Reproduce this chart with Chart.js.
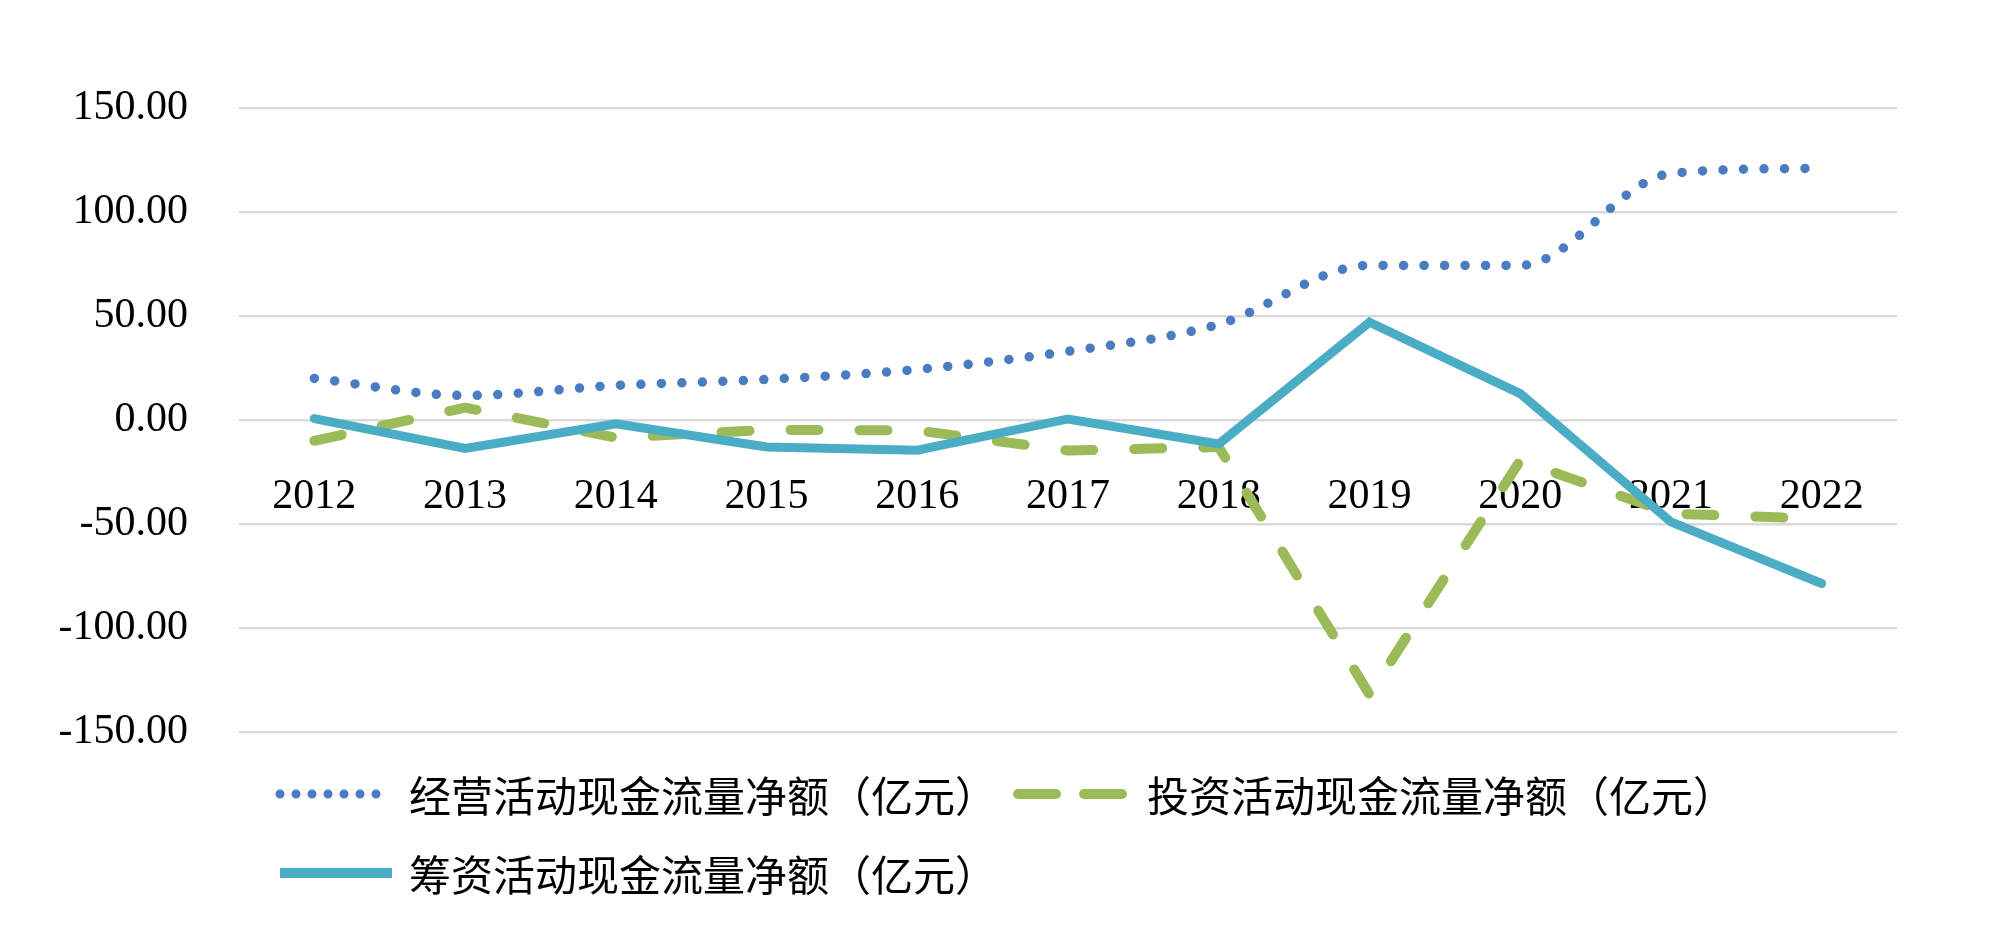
<!DOCTYPE html>
<html>
<head>
<meta charset="utf-8">
<script src="https://cdn.jsdelivr.net/npm/chart.js@4.4.0/dist/chart.umd.min.js"></script>
<style>
  html, body { margin: 0; padding: 0; background: #fff; }
  #wrap { position: relative; width: 1999px; height: 937px; }
  #legend { position: absolute; left: 275px; top: 763px; font-family: "Noto Sans CJK SC", sans-serif; font-size: 42px; color: #000; }
  .item { position: absolute; white-space: nowrap; display: flex; align-items: center; }
  .item svg { margin-right: 12px; }
</style>
</head>
<body>
<div id="wrap">
  <canvas id="chart" width="1999" height="937"></canvas>
  <div id="legend"></div>
</div>
<script>
// years on the x axis
const years = ["2012", "2013", "2014", "2015", "2016", "2017", "2018", "2019", "2020", "2021", "2022"];

// net cash flow, 亿元
const operating = [20, 11.8, 16.6, 19.5, 24.3, 33, 46, 74.3, 74.3, 118.5, 121];
const investing = [-10, 6, -8.5, -4.7, -5, -14.7, -13, -132, -19.5, -45, -47.5];
const financing = [0.7, -13.7, -1.8, -13, -14.5, 0.5, -11.5, 47, 12.7, -49, -78.6];

const seriesNames = [
  "经营活动现金流量净额（亿元）",
  "投资活动现金流量净额（亿元）",
  "筹资活动现金流量净额（亿元）"
];

const yTicks = [-150, -100, -50, 0, 50, 100, 150];

const blue = "#4a7cc1";
const green = "#9bbb59";
const teal = "#4bacc6";

const ctx = document.getElementById("chart").getContext("2d");

new Chart(ctx, {
  type: "line",
  data: {
    labels: years,
    datasets: [
      {
        label: seriesNames[0],
        data: operating,
        borderColor: blue,
        borderWidth: 9.5,
        borderDash: [0, 20.5],
        borderCapStyle: "round",
        cubicInterpolationMode: "monotone",
        pointRadius: 0,
        order: 2
      },
      {
        label: seriesNames[1],
        data: investing,
        borderColor: green,
        borderWidth: 10,
        borderDash: [28, 41],
        borderCapStyle: "round",
        tension: 0,
        pointRadius: 0,
        order: 1
      },
      {
        label: seriesNames[2],
        data: financing,
        borderColor: teal,
        borderWidth: 9,
        borderCapStyle: "round",
        borderJoinStyle: "miter",
        tension: 0,
        pointRadius: 0,
        order: 0
      }
    ]
  },
  options: {
    responsive: false,
    animation: false,
    layout: { padding: { left: 0, right: 102, top: 108, bottom: 205 } },
    plugins: {
      legend: { display: false },
      tooltip: { enabled: false }
    },
    scales: {
      x: {
        position: { y: 0 },
        offset: true,
        grid: { display: false },
        border: { display: false },
        ticks: {
          color: "#000",
          padding: 44,
          maxRotation: 0,
          font: { family: "Liberation Serif", size: 42 }
        }
      },
      y: {
        min: -150,
        max: 150,
        afterFit: (s) => { s.width = 239; },
        afterBuildTicks: (s) => { s.ticks = yTicks.map(v => ({ value: v })); },
        grid: { color: "#d9d9d9", lineWidth: 2.5, drawTicks: false },
        border: { display: false },
        ticks: {
          color: "#000",
          padding: 51,
          font: { family: "Liberation Serif", size: 42 },
          callback: (v) => v.toFixed(2)
        }
      }
    }
  }
});

// legend laid out like the source: two items on the first row, one below
const legendEl = document.getElementById("legend");
const legendItems = [
  { name: seriesNames[0], color: blue, width: 9, dash: "0 16", x: 0, y: 0 },
  { name: seriesNames[1], color: green, width: 10, dash: "38 28", x: 738, y: 0 },
  { name: seriesNames[2], color: teal, width: 10, dash: "", x: 0, y: 79 }
];
legendItems.forEach(it => {
  const div = document.createElement("div");
  div.className = "item";
  div.style.left = it.x + "px";
  div.style.top = it.y + "px";
  const dashAttr = it.dash ? ` stroke-dasharray="${it.dash}"` : "";
  const cap = it.dash ? "round" : "butt";
  div.innerHTML = `<svg width="122" height="20"><line x1="5" y1="10" x2="117" y2="10" stroke="${it.color}" stroke-width="${it.width}" stroke-linecap="${cap}"${dashAttr}/></svg><span>${it.name}</span>`;
  legendEl.appendChild(div);
});
</script>
</body>
</html>
